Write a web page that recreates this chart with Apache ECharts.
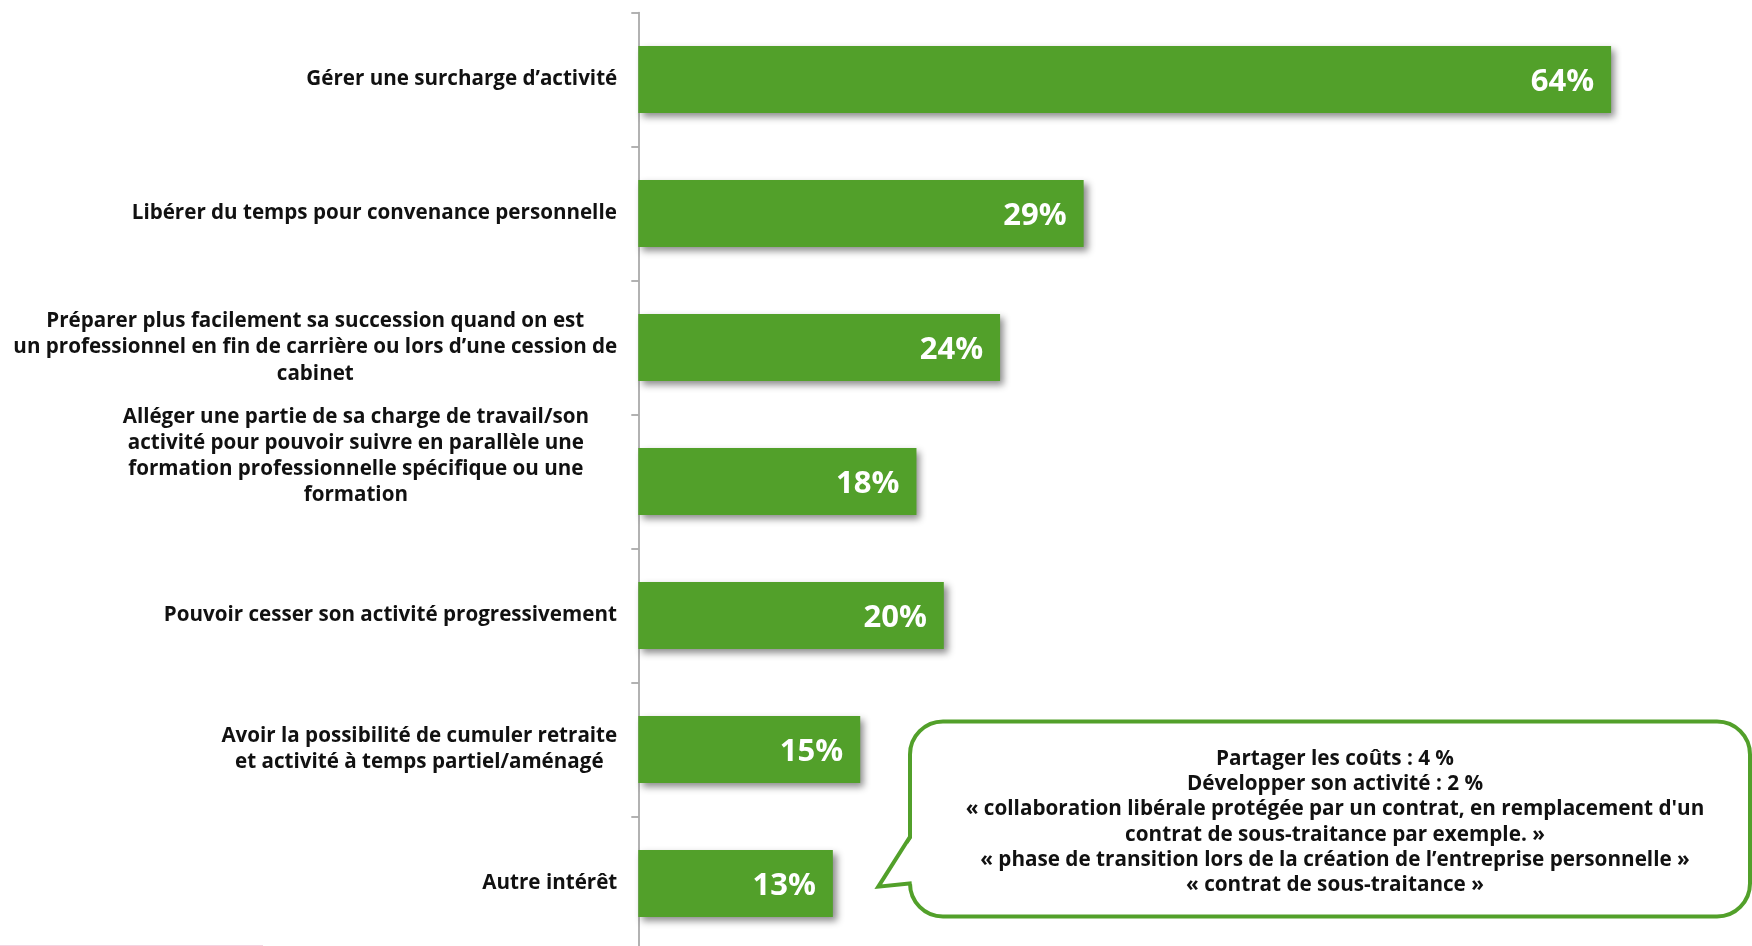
<!DOCTYPE html>
<html>
<head>
<meta charset="utf-8">
<script src="https://cdn.jsdelivr.net/npm/echarts@6/dist/echarts.min.js"></script>
<style>
  html, body { margin: 0; padding: 0; background: #ffffff; }
  #chart { width: 1752px; height: 946px; }
</style>
</head>
<body>
<div id="chart"></div>
<script>
// ---- data ----
const categories = [
  'Gérer une surcharge d’activité',
  'Libérer du temps pour convenance personnelle',
  'Préparer plus facilement sa succession quand on est\nun professionnel en fin de carrière ou lors d’une cession de\ncabinet',
  'Alléger une partie de sa charge de travail/son\nactivité pour pouvoir suivre en parallèle une\nformation professionnelle spécifique ou une\nformation',
  'Pouvoir cesser son activité progressivement',
  'Avoir la possibilité de cumuler retraite\net activité à temps partiel/aménagé',
  'Autre intérêt'
];
const values = [64, 29.3, 23.8, 18.3, 20.1, 14.6, 12.8];
const calloutLines = [
  'Partager les coûts : 4 %',
  'Développer son activité : 2 %',
  '« collaboration libérale protégée par un contrat, en remplacement d\'un',
  'contrat de sous-traitance par exemple. »',
  '« phase de transition lors de la création de l’entreprise personnelle »',
  '« contrat de sous-traitance »'
];

// ---- styles ----
const GREEN = '#52a02a';
const FONT = '"Open Sans", "DejaVu Sans", sans-serif';
const CAT_SIZE = 20.6;
const CAT_LH = 26.2;

const mctx = document.createElement('canvas').getContext('2d');
mctx.font = 'bold ' + CAT_SIZE + 'px ' + FONT;

const rich = {
  gap: { fontSize: 1, lineHeight: 51, height: 51 }
};
categories.forEach((c, i) => {
  const w = Math.max.apply(null, c.split('\n').map(l => mctx.measureText(l).width));
  rich['c' + i] = {
    width: Math.ceil(w) + (i === 3 ? 56 : 0),
    align: 'center',
    fontFamily: FONT,
    fontWeight: 'bold',
    fontSize: CAT_SIZE,
    lineHeight: CAT_LH,
    color: '#111111'
  };
});

const chart = echarts.init(document.getElementById('chart'));
const option = {
  animation: false,
  backgroundColor: '#ffffff',
  grid: {
    left: 638.3,
    top: 12.5,
    width: 72 * 15.2,
    height: 938,
    containLabel: false,
    outerBoundsMode: 'none'
  },
  xAxis: {
    type: 'value',
    min: 0,
    max: 72,
    show: false
  },
  yAxis: {
    type: 'category',
    inverse: true,
    data: categories,
    axisLine: { show: true, lineStyle: { color: '#999999', width: 1.5 } },
    axisTick: { show: true, length: 7, lineStyle: { color: '#999999', width: 1.5 } },
    splitLine: { show: false },
    axisLabel: {
      margin: 21,
      formatter: function (value, idx) {
        let s = value.split('\n').map(l => '{c' + idx + '|' + l + '}').join('\n');
        if (idx === 3) s += '\n{gap| }';
        return s;
      },
      rich: rich
    }
  },
  series: [{
    type: 'bar',
    data: values,
    barWidth: '50%',
    itemStyle: {
      color: GREEN,
      shadowColor: 'rgba(0,0,0,0.45)',
      shadowBlur: 7,
      shadowOffsetX: 4,
      shadowOffsetY: 4
    },
    label: {
      show: true,
      position: 'insideRight',
      distance: 17,
      offset: [0, 2.5],
      color: '#ffffff',
      fontFamily: FONT,
      fontWeight: 'bold',
      fontSize: 31,
      formatter: p => Math.round(p.value) + '%'
    }
  }],
  graphic: [
    {
      type: 'rect',
      shape: { x: 910, y: 721.5, width: 840, height: 195, r: 33 },
      style: { fill: '#ffffff', stroke: GREEN, lineWidth: 4 },
      z: 10
    },
    {
      type: 'polygon',
      shape: { points: [[914, 835], [879, 886.7], [914, 884]] },
      style: { fill: '#ffffff', stroke: null },
      z: 11
    },
    {
      type: 'polyline',
      shape: { points: [[910, 836.7], [878.3, 886.7], [911.7, 883.3]] },
      style: { fill: null, stroke: GREEN, lineWidth: 4, lineJoin: 'miter' },
      z: 12
    },
    {
      type: 'text',
      x: 1335,
      y: 822,
      style: {
        text: calloutLines.join('\n'),
        fill: '#111111',
        font: 'bold 20.7px ' + FONT,
        lineHeight: 25.3,
        align: 'center',
        verticalAlign: 'middle'
      },
      z: 13
    },
    {
      type: 'line',
      shape: { x1: 0, y1: 945.5, x2: 263, y2: 945.5 },
      style: { stroke: '#f4d4e2', lineWidth: 1 },
      z: 5
    }
  ]
};
chart.setOption(option);
</script>
</body>
</html>
